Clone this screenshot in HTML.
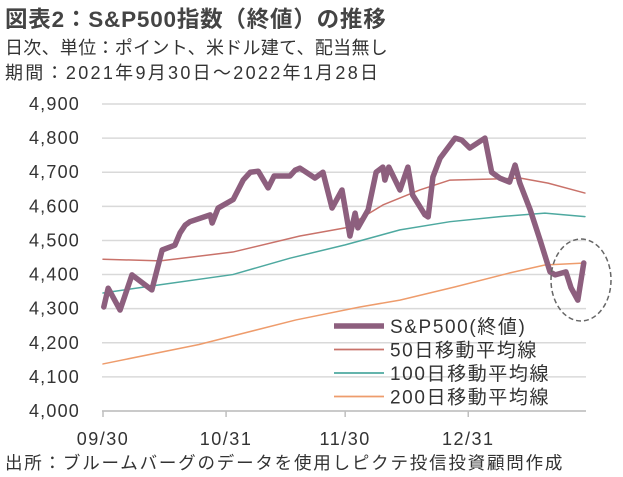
<!DOCTYPE html>
<html><head><meta charset="utf-8"><style>
body{margin:0;background:#fff;width:623px;height:477px;overflow:hidden;font-family:"Liberation Sans","Noto Sans CJK JP",sans-serif;color:#333}
.t{position:absolute;left:5px;white-space:nowrap}
</style></head><body>
<div class="t" style="top:2px;font-size:22.5px;font-weight:bold;color:#444;letter-spacing:0.8px">図表2：S&amp;P500指数（終値）の推移</div>
<div class="t" style="top:34px;font-size:18px;letter-spacing:0.3px">日次、単位：ポイント、米ドル建て、配当無し</div>
<div class="t" style="top:59px;font-size:18px;letter-spacing:2.3px">期間：2021年9月30日～2022年1月28日</div>
<div class="t" style="top:450px;font-size:17.5px;letter-spacing:1.8px">出所：ブルームバーグのデータを使用しピクテ投信投資顧問作成</div>
<svg id="c" width="623" height="477" style="position:absolute;left:0;top:0"></svg>
<script>
const yTicks=[4000,4100,4200,4300,4400,4500,4600,4700,4800,4900];
const xTickLabels=["09/30","10/31","11/30","12/31"];
const xTickDays=[0,31,61,92];
const spDays=[0.2,1.3,4.3,7.3,12.3,14.9,18.1,19.4,20.7,21.9,27,27.5,29,32.8,35.3,37.1,39.1,41.6,43.1,47.1,48.4,49.6,53.4,55.4,57.7,60.2,62.2,63.5,64.2,66.8,68.8,70.5,71,72,74.8,76.8,78,81.1,81.9,83.1,84.9,88.7,90.4,92.4,96.2,97.9,99.9,102.4,103.8,105,107.6,110.1,112.6,113.9,116.6,117.9,119.6,121.1];
const spVals=[4305,4360,4296,4399,4355,4472,4486,4522,4545,4555,4575,4551,4595,4620,4677,4700,4703,4654,4689,4689,4706,4712,4683,4700,4595,4648,4513,4580,4537,4590,4700,4715,4677,4715,4648,4715,4633,4575,4569,4686,4741,4800,4794,4771,4800,4700,4683,4671,4721,4668,4590,4501,4408,4399,4408,4361,4325,4434];
const ma50Days=[0,14.4,32.7,49.6,61,70.5,79.8,87.4,98.2,105,112.1,121.4];
const ma50=[4445,4440,4466,4513,4537,4604,4648,4677,4680,4683,4668,4639];
const ma100Days=[0,14.4,32.7,47.1,61,74.8,87.4,100,111.3,121.4];
const ma100=[4346,4370,4400,4448,4487,4531,4555,4570,4580,4570];
const ma200Days=[0,24.2,48.6,64.7,74.8,88.7,102.5,111.3,121.4];
const ma200=[4138,4195,4267,4305,4325,4364,4405,4428,4434];
const legendNames=["S&P500(終値)","50日移動平均線","100日移動平均線","200日移動平均線"];
const colors=["#8d5f7e","#c9726a","#4ea9a0","#ee9c6c"];
const widths=[5.5,1.5,1.5,1.5];
const ns="http://www.w3.org/2000/svg",svg=document.getElementById('c');
const X=d=>103+d*3.97, Y=v=>411-(v-4000)*0.3411;
function mk(t,a){const e=document.createElementNS(ns,t);for(const k in a)e.setAttribute(k,a[k]);svg.appendChild(e);return e;}
yTicks.forEach(v=>{
 const g=mk('line',{x1:102,x2:586,y1:Y(v),y2:Y(v),stroke:'#d9d9d9','stroke-width':1.5});
 
 
 const t=mk('text',{x:80,y:Y(v)+6,'text-anchor':'end','font-size':18,'letter-spacing':1.2,fill:'#333'});t.textContent=v.toLocaleString('en-US');
 
 
});
const ax=mk('line',{x1:102,x2:586,y1:411,y2:411,stroke:'#bfbfbf','stroke-width':1.5});


xTickLabels.forEach((l,i)=>{
 const tk=mk('line',{x1:X(xTickDays[i]),x2:X(xTickDays[i]),y1:411,y2:417,stroke:'#bfbfbf','stroke-width':1.5});
 
 
 const t=mk('text',{x:X(xTickDays[i]),y:445,'text-anchor':'middle','font-size':18,'letter-spacing':1.5,fill:'#333'});t.textContent=l;
 
 
});
const series=[[spDays,spVals],[ma50Days,ma50],[ma100Days,ma100],[ma200Days,ma200]];
const snames=['sp500-line','ma50-line','ma100-line','ma200-line'];
for(let s=3;s>=0;s--){
 const [d,v]=series[s];
 const p=mk('polyline',{points:d.map((x,i)=>X(x)+','+Y(v[i])).join(' '),fill:'none',stroke:colors[s],'stroke-width':widths[s],'stroke-linejoin':'round','stroke-linecap':'round'});
 
 
}
const el=mk('ellipse',{cx:581,cy:280,rx:30,ry:41,fill:'none',stroke:'#666','stroke-width':1.5,'stroke-dasharray':'5,3'});


legendNames.forEach((n,i)=>{
 const y=326+i*23.5;
 const l=mk('line',{x1:334,x2:384,y1:y,y2:y,stroke:colors[i],'stroke-width':i?1.8:5.5});
 
 
 const t=mk('text',{x:390,y:y+7,'font-size':19,'letter-spacing':1.6,fill:'#333'});t.textContent=n;
 
 
});
</script>
</body></html>
